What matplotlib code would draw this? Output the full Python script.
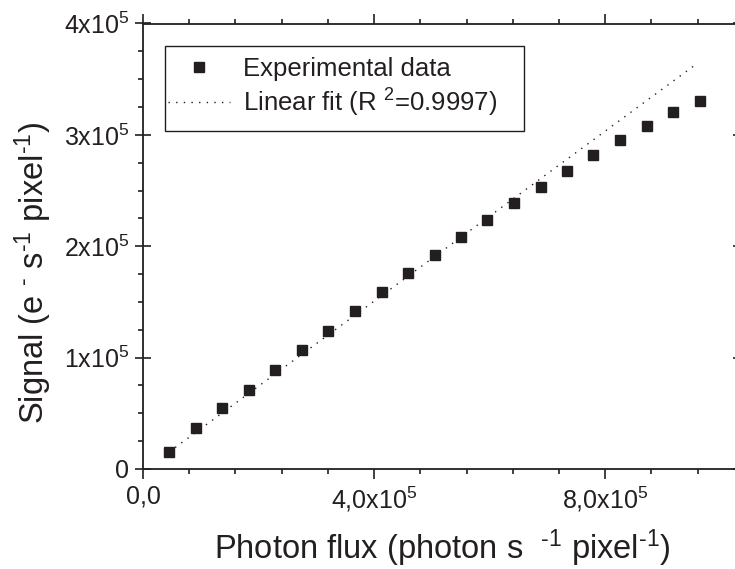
import matplotlib
matplotlib.use('Agg')
import matplotlib.pyplot as plt
from matplotlib.patches import Rectangle
from matplotlib.ticker import FixedLocator, FixedFormatter, MultipleLocator, NullFormatter

plt.rcParams['font.family'] = ['Liberation Sans', 'DejaVu Sans']
plt.rcParams['mathtext.fontset'] = 'custom'
plt.rcParams['mathtext.rm'] = 'Liberation Sans'
plt.rcParams['mathtext.it'] = 'Liberation Sans:italic'
plt.rcParams['mathtext.default'] = 'regular'

# measured points (photon flux vs signal)
photon_flux = [45.5e3, 91.8e3, 137.3e3, 183.5e3, 229.1e3, 274.8e3, 320.9e3,
               366.6e3, 413.3e3, 458.9e3, 505.1e3, 550.6e3, 595.7e3, 641.9e3,
               688.0e3, 734.2e3, 779.7e3, 825.5e3, 871.5e3, 917.2e3, 963.3e3]
signal = [15.3e3, 37.1e3, 54.5e3, 71.2e3, 88.9e3, 106.6e3, 123.9e3,
          141.8e3, 159.2e3, 176.2e3, 192.4e3, 208.5e3, 223.8e3, 238.5e3,
          253.1e3, 267.5e3, 281.6e3, 295.6e3, 308.2e3, 320.2e3, 330.1e3]

# linear fit endpoints
fit_x = [45.0e3, 954.0e3]
fit_y = [15.2e3, 362.2e3]

xticks = [0, 4e5, 8e5]
xticklabels = ['0,0', '4,0x10$^{5}$', '8,0x10$^{5}$']
yticks = [0, 1e5, 2e5, 3e5, 4e5]
yticklabels = ['0', '1x10$^{5}$', '2x10$^{5}$', '3x10$^{5}$', '4x10$^{5}$']

ink = '#231f20'

fig = plt.figure(figsize=(7.35, 5.69), dpi=100)
ax = fig.add_axes([143 / 735, 100 / 569, 598 / 735, 445.5 / 569])

ax.plot(fit_x, fit_y, linestyle=(0, (1, 4.5)), color=ink, lw=1.0,
        label='Linear fit (R $^{2}$=0.9997)')
ax.plot(photon_flux, signal, 's', color=ink, markersize=6.5, mec=ink,
        label='Experimental data')

ax.set_xlim(0, 1.035e6)
ax.set_ylim(0, 4e5)

ax.xaxis.set_major_locator(FixedLocator(xticks))
ax.xaxis.set_major_formatter(FixedFormatter(xticklabels))
ax.xaxis.set_minor_locator(MultipleLocator(8e4))
ax.yaxis.set_major_locator(FixedLocator(yticks))
ax.yaxis.set_major_formatter(FixedFormatter(yticklabels))
ax.yaxis.set_minor_locator(MultipleLocator(2.5e4))
ax.yaxis.set_minor_formatter(NullFormatter())

for s in ax.spines.values():
    s.set_linewidth(1.3)
    s.set_color(ink)

ax.tick_params(which='both', direction='out', top=True, right=True,
               color=ink, width=1.2, labelcolor=ink, labelsize=18)
ax.tick_params(which='major', length=7, pad=4)
ax.tick_params(which='minor', length=3.5)
ax.tick_params(axis='y', which='major', right=True, direction='inout', length=12)

ax.set_xlabel('Photon flux (photon s  $^{\\text{-1}}$ pixel$^{\\text{-1}}$)',
              fontsize=23.5, color=ink, labelpad=10)
ax.set_ylabel('Signal (e $^{\\text{-}}$ s$^{\\text{-1}}$ pixel$^{\\text{-1}}$)',
              fontsize=23.5, color=ink)
ax.yaxis.set_label_coords(-0.149, 0.44)

# legend entries without frame, frame drawn as its own box
handles, labels = ax.get_legend_handles_labels()
leg = ax.legend(handles[::-1], labels[::-1], loc='upper left',
                bbox_to_anchor=((168 - 143) / 598, 1 - (57 - 23.5) / 445.5),
                fontsize=18.5, frameon=False, borderpad=0, borderaxespad=0,
                labelspacing=0.22, handlelength=2.4, handletextpad=0.5)
for t in leg.get_texts():
    t.set_color(ink)
ax.add_patch(Rectangle(((165 - 143) / 598, 1 - (131 - 23.5) / 445.5),
                       (524 - 165) / 598, (131 - 46) / 445.5,
                       transform=ax.transAxes, fill=False, edgecolor=ink,
                       lw=1.0, zorder=5))

fig.savefig('out.png', dpi=100)
